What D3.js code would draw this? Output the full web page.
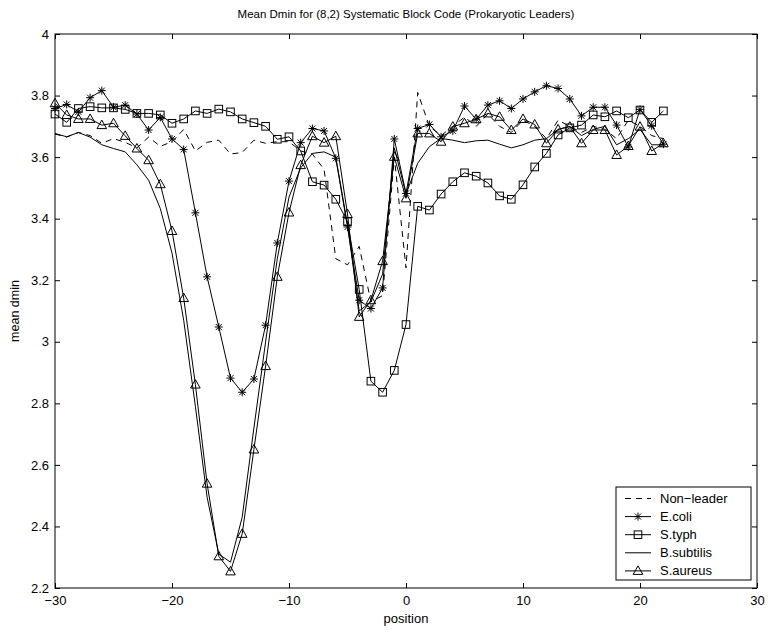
<!DOCTYPE html>
<html>
<head>
<meta charset="utf-8">
<script src="https://cdn.jsdelivr.net/npm/d3@7"></script>
<style>
  body { margin: 0; background: #fff; }
  svg { display: block; font-family: 'Liberation Sans', Arial, sans-serif; }
</style>
</head>
<body>
<svg id="chart"></svg>
<script>
// positions along the leader (x)
const positions = [-30, -29, -28, -27, -26, -25, -24, -23, -22, -21, -20, -19, -18, -17, -16, -15, -14, -13, -12, -11,
  -10, -9, -8, -7, -6, -5, -4, -3, -2, -1, 0, 1, 2, 3, 4, 5, 6, 7, 8, 9, 10, 11, 12, 13, 14, 15, 16, 17, 18, 19, 20, 21, 22]

const nonLeader = [3.675, 3.665, 3.68, 3.67, 3.645, 3.66, 3.648, 3.63, 3.665, 3.635, 3.65, 3.69, 3.62, 3.648, 3.655, 3.61, 3.615, 3.655, 3.645, 3.65,
  3.65, 3.62, 3.61, 3.56, 3.27, 3.25, 3.31, 3.13, 3.15, 3.6, 3.24, 3.81, 3.70, 3.67, 3.70, 3.73, 3.70, 3.74, 3.70, 3.68, 3.72, 3.70, 3.66, 3.72, 3.70, 3.68, 3.70, 3.69, 3.66, 3.72, 3.70, 3.67, 3.66]

const eColi = [3.758, 3.771, 3.747, 3.793, 3.816, 3.762, 3.769, 3.74, 3.688, 3.729, 3.659, 3.625, 3.419, 3.211, 3.048, 2.882, 2.836, 2.879, 3.054, 3.321,
  3.522, 3.647, 3.693, 3.685, 3.596, 3.373, 3.135, 3.108, 3.175, 3.659, 3.482, 3.693, 3.706, 3.666, 3.685, 3.766, 3.723, 3.769, 3.783, 3.758, 3.789, 3.812, 3.832, 3.823, 3.789, 3.734, 3.762, 3.762, 3.704, 3.633, 3.755, 3.702, 3.642]

const sTyph = [3.74, 3.713, 3.758, 3.764, 3.76, 3.76, 3.755, 3.742, 3.742, 3.737, 3.71, 3.724, 3.75, 3.742, 3.756, 3.747, 3.724, 3.712, 3.70, 3.658,
  3.666, 3.62, 3.52, 3.509, 3.463, 3.39, 3.17, 2.872, 2.836, 2.907, 3.056, 3.44, 3.428, 3.48, 3.52, 3.549, 3.538, 3.516, 3.474, 3.463, 3.51, 3.568, 3.612, 3.672, 3.695, 3.704, 3.737, 3.731, 3.75, 3.728, 3.753, 3.713, 3.75]

const bSubtilis = [3.677, 3.666, 3.68, 3.665, 3.64, 3.628, 3.617, 3.575, 3.525, 3.433, 3.288, 3.07, 2.79, 2.495, 2.31, 2.284, 2.43, 2.72, 3.0, 3.27,
  3.47, 3.565, 3.612, 3.617, 3.60, 3.38, 3.10, 3.13, 3.22, 3.63, 3.48, 3.58, 3.634, 3.661, 3.655, 3.647, 3.653, 3.655, 3.642, 3.63, 3.64, 3.655, 3.66, 3.69, 3.70, 3.67, 3.69, 3.70, 3.64, 3.66, 3.69, 3.64, 3.64]

const sAureus = [3.775, 3.737, 3.724, 3.724, 3.704, 3.71, 3.669, 3.628, 3.59, 3.512, 3.36, 3.142, 2.861, 2.539, 2.303, 2.254, 2.376, 2.65, 2.921, 3.211,
  3.42, 3.574, 3.668, 3.647, 3.668, 3.415, 3.081, 3.135, 3.262, 3.601, 3.466, 3.677, 3.677, 3.65, 3.699, 3.71, 3.723, 3.742, 3.731, 3.688, 3.724, 3.706, 3.645, 3.69, 3.699, 3.645, 3.688, 3.688, 3.607, 3.636, 3.699, 3.62, 3.645]

const xTicks = [-30, -20, -10, 0, 10, 20, 30]
const yTicks = [2.2, 2.4, 2.6, 2.8, 3, 3.2, 3.4, 3.6, 3.8, 4]

const series = [
  { name: 'Non\u2212leader', values: nonLeader, dash: '6,5', marker: null },
  { name: 'E.coli', values: eColi, dash: null, marker: 'star' },
  { name: 'S.typh', values: sTyph, dash: null, marker: 'square' },
  { name: 'B.subtilis', values: bSubtilis, dash: null, marker: null },
  { name: 'S.aureus', values: sAureus, dash: null, marker: 'triangle' }
]

const svgWidth = 769
const svgHeight = 632
const margin = { top: 34, right: 12, bottom: 44, left: 55 }
const width = svgWidth - margin.left - margin.right
const height = svgHeight - margin.top - margin.bottom

const svg = d3.select('#chart')
  .attr('width', svgWidth)
  .attr('height', svgHeight)

const g = svg.append('g')
  .attr('transform', `translate(${margin.left}, ${margin.top})`)

const x = d3.scaleLinear().domain([-30, 30]).range([0, width])
const y = d3.scaleLinear().domain([2.2, 4]).range([height, 0])

const fmt = d3.format('~g')

// draws a marker shape centred on 0,0
function drawMarker (sel, type) {
  if (type === 'star') {
    sel.append('path')
      .attr('d', 'M-4,0H4M0,-4V4M-3,-3L3,3M-3,3L3,-3')
      .attr('stroke', '#000').attr('stroke-width', 1).attr('fill', 'none')
  } else if (type === 'square') {
    sel.append('rect')
      .attr('x', -3.8).attr('y', -3.8).attr('width', 7.6).attr('height', 7.6)
      .attr('stroke', '#000').attr('stroke-width', 1).attr('fill', 'none')
  } else if (type === 'triangle') {
    sel.append('path')
      .attr('d', 'M0,-5L4.8,3.5L-4.8,3.5Z')
      .attr('stroke', '#000').attr('stroke-width', 1).attr('fill', 'none')
  }
}

// Axes: ticks point inward on all four sides
const styleAxis = ax => {
  ax.select('.domain').remove()
  ax.selectAll('line').attr('stroke', '#000')
  ax.selectAll('text').attr('font-size', 13).attr('fill', '#000')
    .attr('font-family', "'Liberation Sans', Arial, sans-serif")
}

g.append('g')
  .attr('transform', `translate(0, ${height})`)
  .call(d3.axisBottom(x).tickValues(xTicks).tickFormat(fmt).tickSizeInner(-5).tickSizeOuter(0).tickPadding(8))
  .call(styleAxis)

g.append('g')
  .call(d3.axisTop(x).tickValues(xTicks).tickFormat('').tickSizeInner(-5).tickSizeOuter(0))
  .call(styleAxis)

g.append('g')
  .call(d3.axisLeft(y).tickValues(yTicks).tickFormat(fmt).tickSizeInner(-5).tickSizeOuter(0).tickPadding(6))
  .call(styleAxis)

g.append('g')
  .attr('transform', `translate(${width}, 0)`)
  .call(d3.axisRight(y).tickValues(yTicks).tickFormat('').tickSizeInner(-5).tickSizeOuter(0))
  .call(styleAxis)

g.append('rect')
  .attr('width', width)
  .attr('height', height)
  .attr('fill', 'none')
  .attr('stroke', '#000')
  .attr('stroke-width', 1)

const line = d3.line()
  .x((d, i) => x(positions[i]))
  .y(d => y(d))

for (const s of series) {
  g.append('path')
    .datum(s.values)
    .attr('fill', 'none')
    .attr('stroke', '#000')
    .attr('stroke-width', 1)
    .attr('stroke-dasharray', s.dash)
    .attr('d', line)

  if (s.marker) {
    g.append('g')
      .selectAll('g')
      .data(s.values)
      .join('g')
      .attr('transform', (d, i) => `translate(${x(positions[i])}, ${y(d)})`)
      .each(function () { drawMarker(d3.select(this), s.marker) })
  }
}

// Title and labels
svg.append('text')
  .attr('x', margin.left + width / 2)
  .attr('y', 18)
  .attr('text-anchor', 'middle')
  .attr('font-size', 11.5)
  .text('Mean Dmin for (8,2) Systematic Block Code (Prokaryotic Leaders)')

svg.append('text')
  .attr('x', margin.left + width / 2)
  .attr('y', 623)
  .attr('text-anchor', 'middle')
  .attr('font-size', 13)
  .text('position')

svg.append('text')
  .attr('transform', `translate(19, ${margin.top + height / 2}) rotate(-90)`)
  .attr('text-anchor', 'middle')
  .attr('font-size', 12.5)
  .text('mean dmin')

// Legend
const legend = svg.append('g').attr('transform', 'translate(616, 487)')
legend.append('rect')
  .attr('width', 135)
  .attr('height', 93)
  .attr('fill', '#fff')
  .attr('stroke', '#000')
  .attr('stroke-width', 1)

series.forEach((s, i) => {
  const row = legend.append('g').attr('transform', `translate(0, ${11.5 + i * 18.1})`)
  row.append('line')
    .attr('x1', 9).attr('x2', 35)
    .attr('stroke', '#000')
    .attr('stroke-width', 1)
    .attr('stroke-dasharray', s.dash)
  if (s.marker) {
    drawMarker(row.append('g').attr('transform', 'translate(22, 0)'), s.marker)
  }
  row.append('text')
    .attr('x', 44)
    .attr('dy', '0.35em')
    .attr('font-size', 13)
    .text(s.name)
})
</script>
</body>
</html>
